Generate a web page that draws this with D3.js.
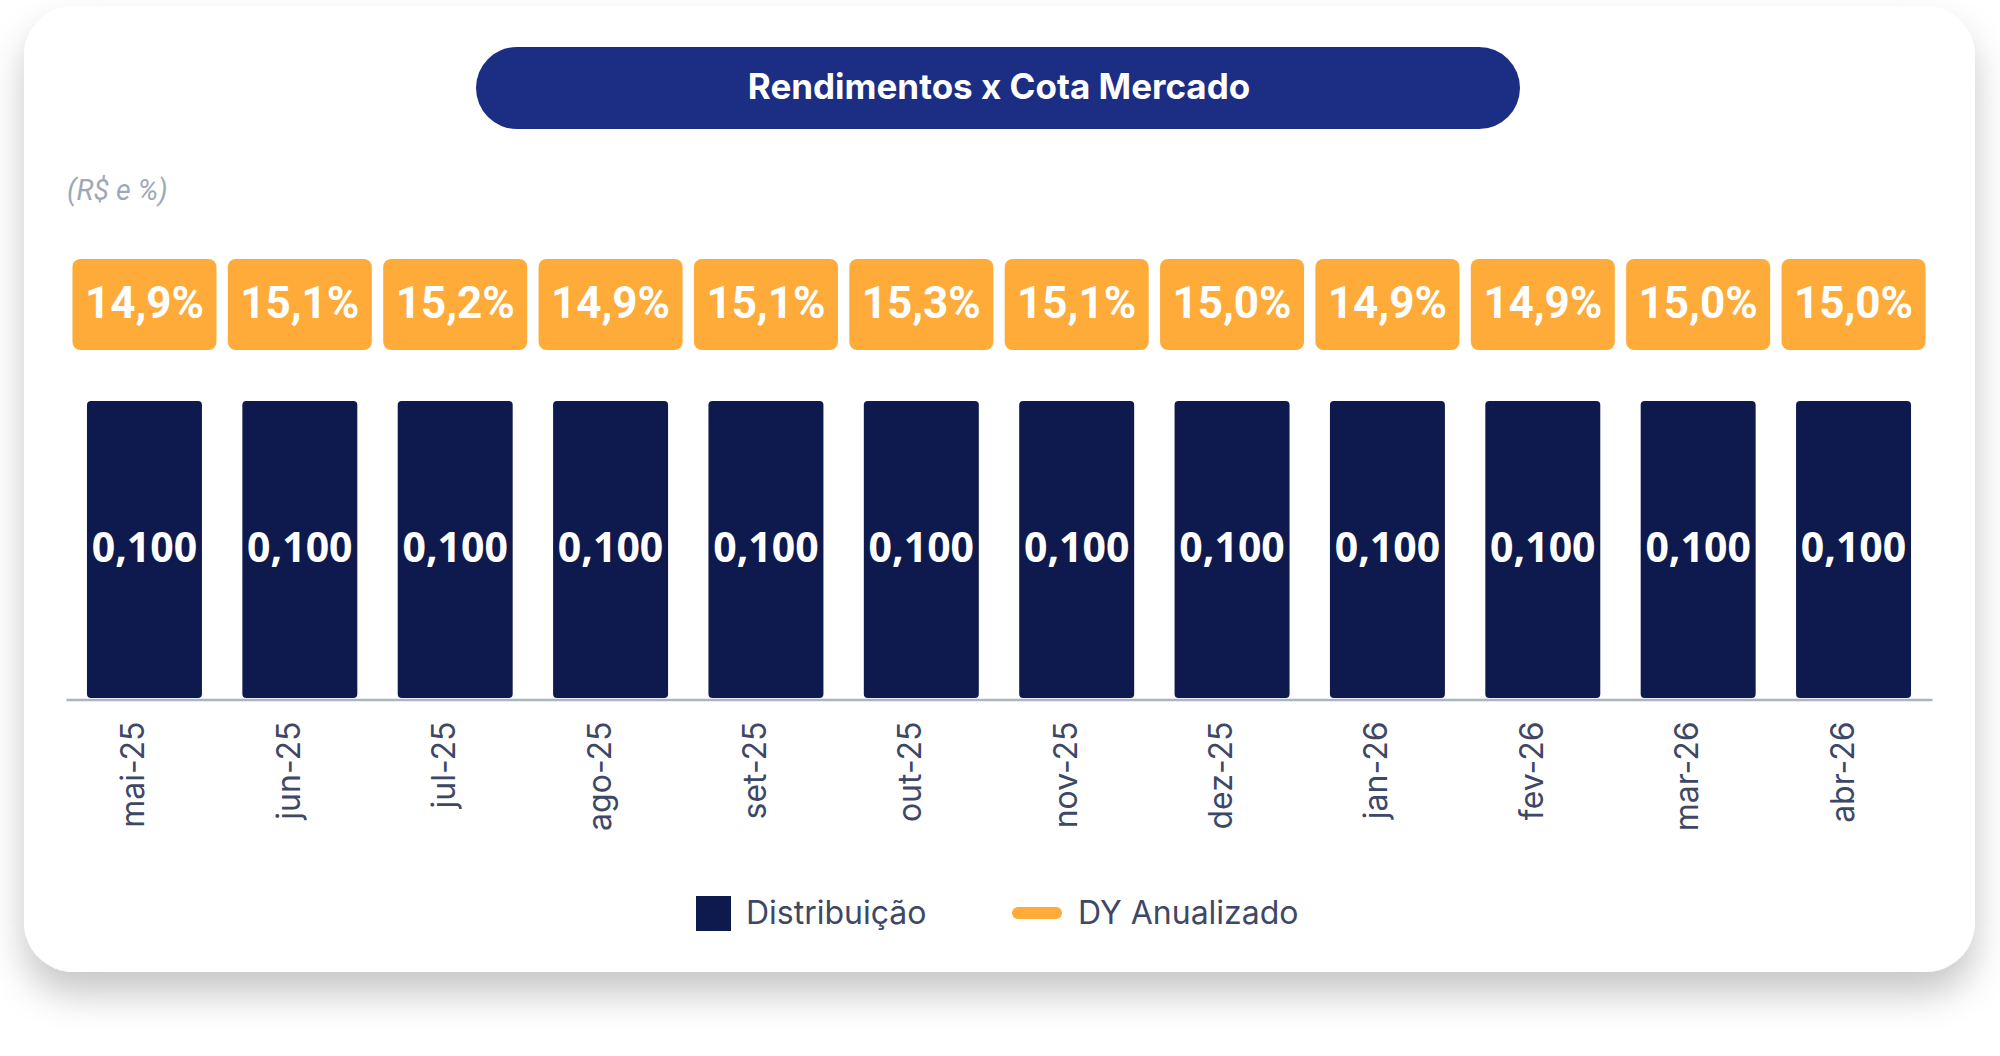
<!DOCTYPE html>
<html>
<head>
<meta charset="utf-8">
<script src="https://cdn.jsdelivr.net/npm/d3@7"></script>
<style>
  html, body { margin: 0; padding: 0; background: #ffffff; }
  svg { display: block; }
</style>
</head>
<body>
<div id="chart"></div>
<script>
// DATA
const months = ["mai-25", "jun-25", "jul-25", "ago-25", "set-25", "out-25",
                "nov-25", "dez-25", "jan-26", "fev-26", "mar-26", "abr-26"];
const distribuicao = [0.100, 0.100, 0.100, 0.100, 0.100, 0.100,
                      0.100, 0.100, 0.100, 0.100, 0.100, 0.100];
const dyAnualizado = [14.9, 15.1, 15.2, 14.9, 15.1, 15.3,
                      15.1, 15.0, 14.9, 14.9, 15.0, 15.0];
const legendItems = ["Distribuição", "DY Anualizado"];

const title = "Rendimentos x Cota Mercado";
const unitLabel = "(R$ e %)";

// pt-BR number formats
const br = d3.formatLocale({decimal: ",", thousands: ".", grouping: [3], currency: ["R$ ", ""]});
const fmtDist = br.format(".3f");
const fmtDy = v => br.format(".1f")(v) + "%";

const width = 2000;
const height = 1056;
const navy = "#0e1a4d";
const orange = "#ffab3a";
const pillBlue = "#1b2e84";
const labelColor = "#3e4866";

const svg = d3.select("#chart")
    .append("svg")
    .attr("width", width)
    .attr("height", height)
    .attr("viewBox", [0, 0, width, height]);

// card shadow
const defs = svg.append("defs");
const f = defs.append("filter")
    .attr("id", "shadow")
    .attr("x", "-10%").attr("y", "-10%")
    .attr("width", "120%").attr("height", "130%");
f.append("feDropShadow")
    .attr("dx", 0).attr("dy", 22)
    .attr("stdDeviation", 18)
    .attr("flood-color", "#000")
    .attr("flood-opacity", 0.22);

svg.append("rect")
    .attr("x", 24).attr("y", 6)
    .attr("width", 1951).attr("height", 966)
    .attr("rx", 50)
    .attr("fill", "#fff")
    .attr("filter", "url(#shadow)");

// title pill
svg.append("rect")
    .attr("x", 476).attr("y", 47)
    .attr("width", 1044).attr("height", 82)
    .attr("rx", 41)
    .attr("fill", pillBlue);

svg.append("text")
    .attr("x", 999).attr("y", 99)
    .attr("text-anchor", "middle")
    .attr("fill", "#fff")
    .style("font", "700 35px Inter")
    .text(title);

svg.append("text")
    .attr("x", 67).attr("y", 200)
    .attr("fill", "#9ea8b8")
    .style("font", "italic 400 28.5px Roboto")
    .text(unitLabel);

// scales
const x = d3.scaleBand(months, [66, 1932])
    .paddingInner(0.26)
    .paddingOuter(0.135);

const xBox = d3.scaleBand(months, [66, 1932])
    .paddingInner(0.073)
    .paddingOuter(0.0415);

const y = d3.scaleLinear([0, 0.1], [698, 401]);

// DY boxes
const boxes = svg.append("g")
    .selectAll("g")
    .data(months)
    .join("g")
        .attr("transform", d => `translate(${xBox(d)},259)`);

boxes.append("rect")
    .attr("width", xBox.bandwidth())
    .attr("height", 91)
    .attr("rx", 8)
    .attr("fill", orange);

boxes.append("text")
    .attr("x", xBox.bandwidth() / 2)
    .attr("y", 43)
    .attr("dy", "0.36em")
    .attr("text-anchor", "middle")
    .attr("fill", "#fff")
    .style("font", "700 44px Roboto")
    .text((d, i) => fmtDy(dyAnualizado[i]));

// bars
svg.append("g")
    .selectAll("rect")
    .data(months)
    .join("rect")
        .attr("x", d => x(d))
        .attr("y", (d, i) => y(distribuicao[i]))
        .attr("width", x.bandwidth())
        .attr("height", (d, i) => y(0) - y(distribuicao[i]))
        .attr("rx", 4)
        .attr("fill", navy);

svg.append("g")
    .selectAll("text")
    .data(months)
    .join("text")
        .attr("x", d => x(d) + x.bandwidth() / 2)
        .attr("y", (d, i) => (y(distribuicao[i]) + y(0)) / 2 - 2)
        .attr("dy", "0.36em")
        .attr("text-anchor", "middle")
        .attr("fill", "#fff")
        .style("font", "700 41px 'Open Sans'")
        .text((d, i) => fmtDist(distribuicao[i]));

// x axis
svg.append("g")
    .attr("transform", "translate(0,699.5)")
    .call(d3.axisBottom(x).tickSize(0).tickSizeOuter(0))
    .call(g => g.select(".domain")
        .attr("stroke", "#a9b4c6")
        .attr("stroke-width", 2.5))
    .call(g => g.selectAll("text")
        .attr("transform", "rotate(-90)")
        .attr("x", -22)
        .attr("y", 0)
        .attr("dy", 0)
        .attr("text-anchor", "end")
        .attr("fill", labelColor)
        .style("font", "400 32px Inter"));

// legend
const legend = svg.append("g");
legend.append("rect")
    .attr("x", 696).attr("y", 896)
    .attr("width", 35).attr("height", 35)
    .attr("fill", navy);
legend.append("text")
    .attr("x", 746).attr("y", 924)
    .attr("fill", labelColor)
    .style("font", "400 32px Inter")
    .text(legendItems[0]);
legend.append("line")
    .attr("x1", 1018).attr("x2", 1056)
    .attr("y1", 913).attr("y2", 913)
    .attr("stroke", orange)
    .attr("stroke-width", 12)
    .attr("stroke-linecap", "round");
legend.append("text")
    .attr("x", 1078).attr("y", 924)
    .attr("fill", labelColor)
    .style("font", "400 32px Inter")
    .text(legendItems[1]);
</script>
</body>
</html>
